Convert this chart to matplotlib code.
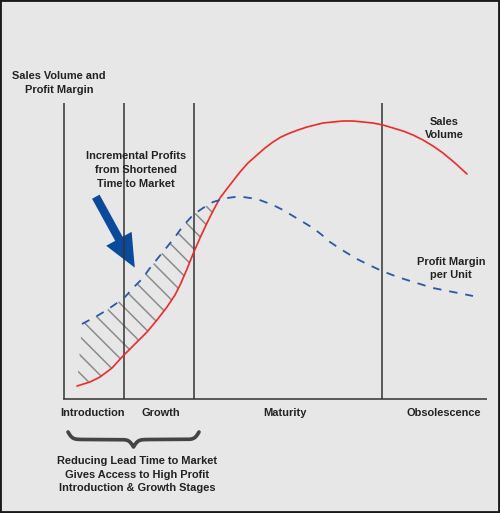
import numpy as np
import matplotlib
matplotlib.use("Agg")
import matplotlib.pyplot as plt
from matplotlib.patches import Rectangle

plt.rcParams['font.family'] = ['Liberation Sans', 'DejaVu Sans']
plt.rcParams['hatch.linewidth'] = 1.0
plt.rcParams['lines.scale_dashes'] = False

# chart drawn in a 500 x 513 "page" space, y counted downward
sales_x = [77, 90, 100, 112, 123, 135, 147, 157, 167, 175, 181, 187, 193, 200, 207, 214, 220,
           226, 233, 240, 248, 257, 265, 273, 281, 290, 298, 307, 315, 323, 333, 343, 353,
           363, 373, 383, 393, 403, 413, 423, 433, 443, 455, 467]
sales_y = [386, 382, 377, 368, 356, 344, 332, 320, 307, 295, 283, 269, 254, 238, 223, 209, 198,
           190, 181, 172, 163, 155, 148, 142, 137, 133, 130, 127, 125, 123, 122, 121, 121,
           122, 123, 125, 128, 131, 135, 140, 146, 153, 163, 174]

margin_x = [82, 97, 107, 117, 125, 133, 142, 150, 158, 167, 175, 183, 193, 203, 213, 220,
            227, 235, 243, 250, 257, 265, 273, 283, 293, 303, 313, 322, 330, 339, 347, 357,
            367, 382, 395, 407, 420, 433, 453, 473]
margin_y = [324, 316, 310, 303, 297, 288, 279, 268, 258, 247, 237, 226, 215, 208, 202, 200,
            198, 197, 197, 198, 199, 202, 205, 210, 216, 222, 228, 235, 242, 248, 253, 259,
            264, 271, 276, 280, 284, 288, 292, 296]

stage_edges = [64, 124, 194, 382]
stage_names = ["Introduction", "Growth", "Maturity", "Obsolescence"]
stage_label_x = [92, 161, 285, 444]
axis_top, axis_base, axis_right = 103, 399, 487
hatch_end = 220

bg = '#e7e7e7'
ink = '#222222'

fig = plt.figure(figsize=(500 / 110, 513 / 110), dpi=110, facecolor=bg)
ax = fig.add_axes([0, 0, 1, 1])
ax.set_xlim(0, 500)
ax.set_ylim(513, 0)
ax.axis('off')

# stage dividers and baseline
ax.vlines(stage_edges, axis_top, axis_base, color='#333333', lw=1.0)
ax.hlines(axis_base, stage_edges[0] - 1, axis_right, color='#333333', lw=1.0)

sx, sy = np.array(sales_x), np.array(sales_y)
mx, my = np.array(margin_x), np.array(margin_y)

# hatched gap between margin and sales
km = mx <= hatch_end
ks = sx <= hatch_end
poly_x = np.concatenate([mx[km], sx[ks][::-1]])
poly_y = np.concatenate([my[km], sy[ks][::-1]])
ax.fill(poly_x, poly_y, facecolor='none', edgecolor='#8c8c8c', hatch='\\\\', lw=0)

ax.plot(sx, sy, color='#ee2a2a', lw=1.1, solid_capstyle='round', solid_joinstyle='round')
ax.plot(mx, my, color='#2a5aa8', lw=1.2, dashes=(5.5, 5.2))

# blue arrow
ax.arrow(95.8, 196.7, 39, 71, width=8.5, head_width=29, head_length=33,
         length_includes_head=True, color='#0b4a9b', lw=0)

# brace under introduction + growth
def brace(x0, x1, top, depth, beta=0.45):
    xs = np.linspace(x0, x1, 301)
    half = xs[:151]
    yh = 1 / (1 + np.exp(-beta * (half - half[0]))) + 1 / (1 + np.exp(-beta * (half - half[-1])))
    yv = np.concatenate([yh, yh[-2::-1]])
    return xs, top + (yv - 0.5) * depth

bx, by = brace(68, 199, 432, 15)
ax.plot(bx, by, color='#444444', lw=2.4, solid_capstyle='round')

tkw = dict(ha='center', va='center', fontsize=7.2, fontweight='bold', color=ink, linespacing=1.45)
ax.text(59, 83, "Sales Volume and\nProfit Margin", **tkw)
ax.text(136, 170, "Incremental Profits\nfrom Shortened\nTime to Market", **tkw)
ax.text(444, 128.5, "Sales\nVolume", **tkw)
ax.text(451, 268.5, "Profit Margin\nper Unit", **tkw)
for name, lx in zip(stage_names, stage_label_x):
    ax.text(lx, 413, name, **tkw)
ax.text(137, 474.5, "Reducing Lead Time to Market\nGives Access to High Profit\nIntroduction & Growth Stages", **tkw)

# outer frame
fig.patches.append(Rectangle((0, 0), 1, 1, transform=fig.transFigure, fill=False,
                             edgecolor='#1a1a1a', lw=2.5))

fig.savefig("out.png", dpi=110, facecolor=bg)
